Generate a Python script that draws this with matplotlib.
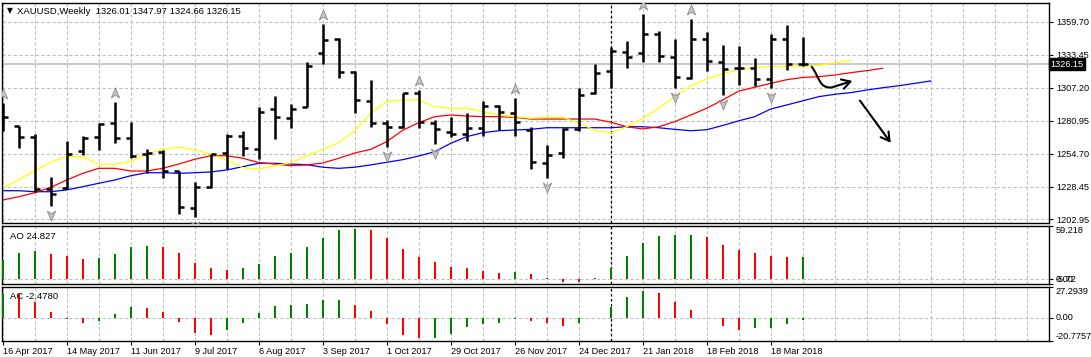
import numpy as np
import matplotlib
matplotlib.use('Agg')
import matplotlib.pyplot as plt
from matplotlib.path import Path
from matplotlib.patches import FancyArrowPatch
from matplotlib import transforms

# weekly XAUUSD bars
opens = [1288.0, 1276.7, 1268.0, 1226.9, 1227.4, 1257.3, 1268.0, 1279.6, 1267.2, 1254.7,
         1256.5, 1240.9, 1212.0, 1228.7, 1255.2, 1269.3, 1258.4, 1290.2, 1283.6, 1292.3,
         1334.8, 1346.2, 1320.2, 1296.9, 1279.1, 1276.4, 1303.0, 1279.6, 1272.4, 1270.4,
         1275.1, 1293.1, 1287.6, 1273.8, 1247.3, 1255.3, 1274.3, 1303.0, 1321.0, 1336.1,
         1334.8, 1349.9, 1331.6, 1315.4, 1346.2, 1328.1, 1323.3, 1322.9, 1314.1, 1346.2,
         1326.01]
highs = [1295.0, 1277.2, 1270.4, 1236.2, 1264.8, 1269.0, 1279.1, 1296.1, 1279.9, 1258.4,
         1257.9, 1241.4, 1232.2, 1254.7, 1270.4, 1273.2, 1291.8, 1300.6, 1294.2, 1328.1,
         1358.1, 1346.7, 1320.7, 1313.3, 1281.7, 1303.5, 1305.6, 1281.7, 1283.9, 1287.6,
         1296.9, 1293.7, 1299.0, 1276.4, 1261.9, 1275.1, 1307.4, 1326.3, 1340.1, 1344.6,
         1365.8, 1352.5, 1346.2, 1362.1, 1351.5, 1341.4, 1340.6, 1330.8, 1349.9, 1357.3,
         1347.97]
lows = [1273.2, 1259.2, 1224.7, 1213.6, 1226.9, 1253.9, 1257.9, 1263.7, 1251.5, 1239.3,
        1235.4, 1206.7, 1204.3, 1227.4, 1242.5, 1253.3, 1250.7, 1266.9, 1275.6, 1291.8,
        1326.0, 1315.4, 1287.6, 1275.9, 1260.0, 1275.1, 1275.6, 1262.7, 1268.5, 1265.3,
        1269.0, 1273.8, 1269.0, 1242.8, 1235.8, 1251.8, 1273.2, 1302.2, 1307.4, 1323.3,
        1328.1, 1327.6, 1307.0, 1314.4, 1321.0, 1301.6, 1309.6, 1309.0, 1307.0, 1321.5,
        1324.66]
closes = [1283.9, 1268.0, 1226.9, 1222.9, 1254.5, 1267.7, 1278.3, 1267.2, 1253.4, 1255.7,
          1240.9, 1212.8, 1228.2, 1254.7, 1269.0, 1259.2, 1288.1, 1284.4, 1290.2, 1324.7,
          1345.4, 1320.2, 1297.7, 1279.1, 1276.4, 1303.0, 1280.4, 1274.3, 1270.4, 1275.1,
          1293.1, 1288.3, 1280.4, 1248.6, 1253.9, 1274.3, 1301.6, 1318.9, 1336.9, 1332.1,
          1349.9, 1332.9, 1316.2, 1346.2, 1328.9, 1322.3, 1323.3, 1314.1, 1346.2, 1326.0,
          1326.15]

# alligator lines (lips / teeth / jaw), shifted forward past the last bar
lips = [1227.6, 1234.3, 1241.4, 1248.1, 1252.6, 1252.6, 1246.5, 1246.5, 1248.6, 1254.7,
        1258.4, 1260.0, 1257.9, 1254.7, 1249.9, 1243.8, 1242.8, 1245.4, 1247.8, 1253.1,
        1258.4, 1263.7, 1273.2, 1287.1, 1296.3, 1297.7, 1297.7, 1292.3, 1291.1, 1291.1,
        1288.3, 1285.7, 1284.4, 1283.1, 1283.9, 1283.9, 1279.1, 1273.8, 1271.4, 1276.4,
        1283.1, 1291.1, 1300.3, 1308.8, 1314.4, 1318.6, 1321.8, 1323.9, 1324.1, 1324.5,
        1324.5, 1325.1, 1327.3, 1329.2]
teeth = [1218.1, 1220.7, 1223.9, 1228.2, 1234.0, 1239.3, 1243.3, 1243.3, 1241.2, 1241.2,
         1243.3, 1246.7, 1250.5, 1253.3, 1253.3, 1251.3, 1247.9, 1246.7, 1245.4, 1246.0,
         1247.5, 1251.3, 1255.5, 1258.4, 1264.5, 1273.6, 1279.6, 1284.4, 1285.7, 1284.9,
         1284.4, 1284.4, 1283.9, 1282.5, 1282.5, 1282.5, 1282.5, 1282.5, 1280.0, 1276.4,
         1274.6, 1276.4, 1280.4, 1285.7, 1291.1, 1297.7, 1304.7, 1307.8, 1310.9, 1313.8,
         1315.6, 1316.2, 1317.5, 1319.4, 1321.0, 1322.9]
jaw = [1225.5, 1225.5, 1224.7, 1224.7, 1226.1, 1228.7, 1231.4, 1234.0, 1237.4, 1239.8,
       1239.8, 1239.3, 1239.8, 1240.4, 1242.0, 1244.6, 1247.3, 1247.3, 1246.7, 1246.2,
       1244.2, 1243.3, 1244.2, 1246.0, 1248.1, 1250.2, 1253.1, 1256.5, 1263.2, 1268.5,
       1271.6, 1273.2, 1273.8, 1274.3, 1275.6, 1275.6, 1275.6, 1275.6, 1275.6, 1276.4,
       1276.4, 1275.6, 1274.3, 1273.2, 1274.0, 1277.4, 1281.1, 1284.4, 1290.5, 1293.7,
       1297.0, 1300.3, 1302.2, 1303.5, 1305.6, 1307.4, 1309.0, 1310.9, 1312.8]

fractal_up = [0, 7, 20, 26, 32, 40, 43]
fractal_down = [3, 12, 24, 27, 34, 42, 45, 48]

ao = [21.6, 28.8, 31.1, 27.8, 25.5, 22.1, 23.2, 27.8, 35.7, 36.8,
      35.7, 28.8, 17.5, 11.8, 10.6, 11.8, 16.4, 25.5, 28.8, 35.7,
      46.0, 54.0, 55.1, 54.0, 46.0, 33.4, 24.4, 18.6, 12.9, 11.8,
      9.5, 7.2, 8.4, 6.1, 1.5, -3.0, -3.3, 1.5, 12.1, 25.9,
      39.6, 47.5, 48.6, 48.9, 46.3, 38.0, 32.3, 28.8, 25.9, 24.4,
      24.827]
ac = [22.1, 20.7, 14.0, 4.9, -1.5, -5.1, -3.0, 3.1, 9.4, 8.5,
      4.9, -4.2, -14.0, -15.1, -10.6, -5.1, 4.0, 10.4, 11.3, 12.1,
      15.6, 16.0, 11.3, 5.8, -6.0, -15.1, -18.2, -17.9, -14.2, -8.7,
      -6.0, -5.1, -1.5, -3.3, -5.1, -7.0, -5.1, -0.6, 9.4, 18.5,
      24.0, 22.1, 14.0, 6.7, -0.6, -7.6, -10.6, -9.6, -9.2, -5.8,
      -2.478]

date_idx = [0, 4, 8, 12, 16, 20, 24, 28, 32, 36, 40, 44, 48]
date_labels = ['16 Apr 2017', '14 May 2017', '11 Jun 2017', '9 Jul 2017', '6 Aug 2017',
               '3 Sep 2017', '1 Oct 2017', '29 Oct 2017', '26 Nov 2017', '24 Dec 2017',
               '21 Jan 2018', '18 Feb 2018', '18 Mar 2018']
price_ticks = [1359.70, 1333.45, 1307.20, 1280.95, 1254.70, 1228.45, 1202.95]
last_price = 1326.15
separator_bar = 38

plt.rcParams['font.family'] = ['Liberation Sans', 'DejaVu Sans']
plt.rcParams['font.size'] = 6.6

W, H = 1091, 357
fig = plt.figure(figsize=(W / 100, H / 100), dpi=100)
fig.set_facecolor('white')


def px_axes(x0, y0, x1, y1):
    return fig.add_axes([x0 / W, 1 - y1 / H, (x1 - x0) / W, (y1 - y0) / H])


ax = px_axes(2.3, 2.7, 1049, 222.7)
ao_ax = px_axes(2.3, 225.6, 1049, 284.3)
ac_ax = px_axes(2.3, 287.1, 1049, 341)

grid_kw = dict(color='#c0c0c0', lw=0.8, linestyle=(0, (3, 2)))
xl = (-0.025, 65.39)
grid_x = np.arange(0, 66, 2)

for a in (ax, ao_ax, ac_ax):
    a.set_xlim(xl)
    a.set_xticks(grid_x)
    a.tick_params(axis='x', which='major', length=0, labelbottom=False)
    a.grid(True, axis='x', **grid_kw)
    a.set_axisbelow(True)
    for s in a.spines.values():
        s.set_color('black')
        s.set_linewidth(1)
    a.yaxis.tick_right()
    a.tick_params(axis='y', length=3, width=0.8, pad=2, labelsize=6.6)
    a.axvline(separator_bar, color='black', lw=0.9, linestyle=(0, (2, 2)), zorder=1)

# main price panel
x = np.arange(len(opens))
ax.set_ylim(1200.05, 1375.05)
ax.set_yticks(price_ticks)
ax.set_yticklabels(['%.2f' % p for p in price_ticks])
ax.grid(True, axis='y', **grid_kw)
ax.axhline(last_price, color='#c0c0c0', lw=1.2, zorder=1)

ax.plot(np.arange(len(jaw)), jaw, color='#0000ff', lw=0.9, zorder=2)
ax.plot(np.arange(len(teeth)), teeth, color='#ff0000', lw=0.9, zorder=2)
ax.plot(np.arange(len(lips)), lips, color='#ffff00', lw=0.9, zorder=2)

ax.vlines(x, lows, highs, color='black', lw=1.8, zorder=3)
ax.hlines(opens, x - 0.3, x, color='black', lw=1.8, zorder=3)
ax.hlines(closes, x, x + 0.3, color='black', lw=1.8, zorder=3)

arrow_up = Path([(0, 1), (0.75, -0.8), (0, -0.3), (-0.75, -0.8), (0, 1)],
                [Path.MOVETO, Path.LINETO, Path.LINETO, Path.LINETO, Path.CLOSEPOLY])
arrow_dn = Path([(0, -1), (0.75, 0.8), (0, 0.3), (-0.75, 0.8), (0, -1)],
                [Path.MOVETO, Path.LINETO, Path.LINETO, Path.LINETO, Path.CLOSEPOLY])
up_tr = transforms.offset_copy(ax.transData, fig=fig, y=9, units='dots')
dn_tr = transforms.offset_copy(ax.transData, fig=fig, y=-9, units='dots')
frac_kw = dict(linestyle='none', markersize=8, markerfacecolor='#c4c4c4',
               markeredgecolor='#8a8a8a', markeredgewidth=0.6, zorder=4)
ax.plot(fractal_up, [highs[i] for i in fractal_up], marker=arrow_up, transform=up_tr, **frac_kw)
ax.plot(fractal_down, [lows[i] for i in fractal_down], marker=arrow_dn, transform=dn_tr, **frac_kw)

# hand drawn arrows
curve = Path([(50.56, 1324.1), (51.05, 1316.0), (51.0, 1307.0), (51.8, 1307.6), (53.1, 1312.8)],
             [Path.MOVETO, Path.CURVE4, Path.CURVE4, Path.CURVE4, Path.LINETO])
ax.add_patch(FancyArrowPatch(path=curve, arrowstyle='->,head_length=0.6,head_width=0.35',
                             mutation_scale=10, lw=1.5, color='black', zorder=5))
ax.annotate('', xy=(55.6, 1261.9), xytext=(53.47, 1299.0),
            arrowprops=dict(arrowstyle='->,head_length=0.6,head_width=0.35',
                            mutation_scale=10, lw=1.5, color='black'), zorder=5)

lab_tr = transforms.blended_transform_factory(ax.transAxes, ax.transData)
ax.text(1.0016, last_price, '%.2f' % last_price, transform=lab_tr, color='white',
        fontsize=6.6, va='center', ha='left', zorder=10, clip_on=False,
        bbox=dict(boxstyle='square,pad=0.18', facecolor='black', edgecolor='black'))

fig.text(9.5 / W, 1 - 10.5 / H, '\u25bc', fontsize=5.5, va='center', ha='center',
         family=['DejaVu Sans'])
fig.text(17 / W, 1 - 11 / H, 'XAUUSD,Weekly  %.2f %.2f %.2f %.2f'
         % (opens[-1], highs[-1], lows[-1], closes[-1]), fontsize=6.8, va='center')

# awesome oscillator
ao_arr = np.array(ao)
ao_up = np.r_[True, np.diff(ao_arr) > 0]
ao_ax.bar(x, ao_arr, width=0.15, color=np.where(ao_up, '#008000', '#ff0000'), zorder=3)
ao_ax.set_ylim(-5.72, 59.218)
ao_ax.axhline(0, **grid_kw)
ao_ax.set_yticks([-5.72, 0, 59.218])
ao_ax.set_yticklabels(['-5.72', '0.00', '59.218'])
for t, va in zip(ao_ax.get_yticklabels(), ['bottom', 'center', 'top']):
    t.set_va(va)
ao_ax.text(7.6 / 1046.7, 0.82, 'AO %.3f' % ao[-1], transform=ao_ax.transAxes,
           va='center', fontsize=6.8)

# accelerator oscillator
ac_arr = np.array(ac)
ac_up = np.r_[True, np.diff(ac_arr) > 0]
ac_ax.bar(x, ac_arr, width=0.15, color=np.where(ac_up, '#008000', '#ff0000'), zorder=3)
ac_ax.set_ylim(-20.7757, 27.2939)
ac_ax.axhline(0, **grid_kw)
ac_ax.set_yticks([-20.7757, 0, 27.2939])
ac_ax.set_yticklabels(['-20.7757', '0.00', '27.2939'])
for t, va in zip(ac_ax.get_yticklabels(), ['bottom', 'center', 'top']):
    t.set_va(va)
ac_ax.text(7.6 / 1046.7, 0.82, 'AC %.4f' % ac[-1], transform=ac_ax.transAxes,
           va='center', fontsize=6.8, zorder=5)

ac_ax.xaxis.remove_overlapping_locs = False
ac_ax.set_xticks(date_idx, minor=True)
ac_ax.set_xticklabels(date_labels, minor=True)
ac_ax.tick_params(axis='x', which='minor', length=3, width=0.8, pad=1.5,
                  labelsize=6.6, labelbottom=True, bottom=True)
for t in ac_ax.get_xticklabels(minor=True):
    t.set_ha('left')

fig.savefig('out.png', dpi=100)
